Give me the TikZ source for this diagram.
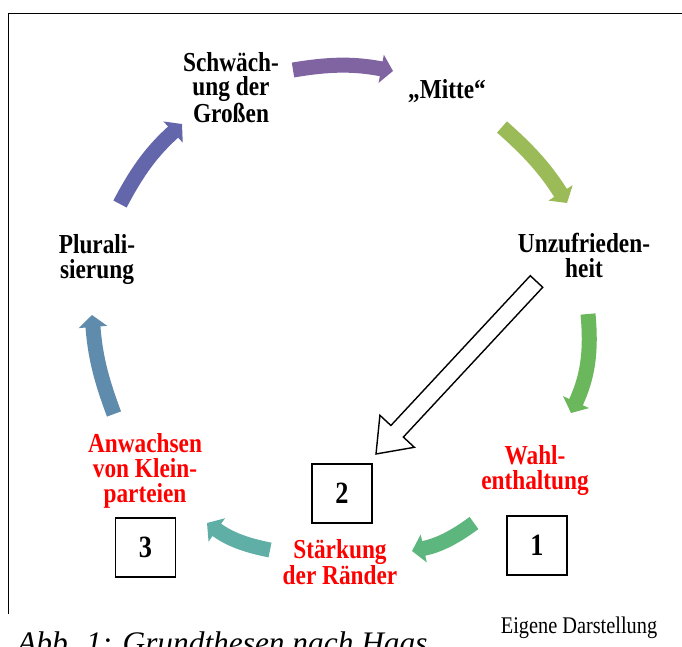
\documentclass[tikz,border=0pt]{standalone}
\usepackage{fontspec}
\setmainfont{Liberation Serif}
\newfontfamily\lblfont[FakeStretch=0.85]{Liberation Serif}
\usetikzlibrary{arrows.meta}
\definecolor{cPurple}{HTML}{8064A2}
\definecolor{cOlive}{HTML}{9BBB59}
\definecolor{cGreen}{HTML}{6BB75B}
\definecolor{cSea}{HTML}{5DB67E}
\definecolor{cTeal}{HTML}{5FAFA6}
\definecolor{cSteel}{HTML}{5F8CAC}
\definecolor{cIndigo}{HTML}{6366AA}

\begin{document}
\begin{tikzpicture}[x=0.025cm,y=0.025cm,
  lbl/.style={font=\lblfont\bfseries\fontsize{19.5}{17.7}\selectfont, align=center, anchor=north, inner sep=0pt},
  redlbl/.style={lbl, text=red},
  numbox/.style={draw, line width=1.4pt, minimum width=1.5cm, minimum height=1.475cm, inner sep=0pt, font=\lblfont\bfseries\fontsize{22}{24}\selectfont},
  cyc/.style={line width=0.375cm, -{Triangle[width=0.7cm,length=0.3cm]}}]
\clip (0,0) rectangle (682,-646);

% frame
\draw[line width=1.4pt] (682,-13.5) -- (8.5,-13.5) -- (8.5,-614);

% labels of the cycle
\node[lbl, font=\lblfont\bfseries\fontsize{19.5}{17.4}\selectfont] (schw) at (231,-52) {Schwäch-\\ung der\\Großen};
\node[lbl] (mitte) at (447,-79) {„Mitte“};
\node[lbl] (unz) at (584,-233) {Unzufrieden-\\heit};
\node[redlbl] (wahl) at (535,-445) {Wahl-\\enthaltung};
\node[redlbl] (staerk) at (340,-539) {Stärkung\\der Ränder};
\node[redlbl] (anw) at (145,-433) {Anwachsen\\von Klein-\\parteien};
\node[lbl] (plur) at (97,-234) {Plurali-\\sierung};

% numbered boxes
\node[numbox] (b1) at (537,-545.5) {1};
\node[numbox] (b2) at (342,-493.5) {2};
\node[numbox] (b3) at (145.5,-547.5) {3};

% cycle arrows
\coordinate (a1) at (293,-70);   \coordinate (e1) at (393,-71);
\coordinate (a2) at (502,-127);  \coordinate (e2) at (567,-203);
\coordinate (a3) at (588,-314);  \coordinate (e3) at (571,-413);
\coordinate (a4) at (474,-523);  \coordinate (e4) at (412,-551);
\coordinate (a5) at (270,-550);  \coordinate (e5) at (207,-523);
\coordinate (a6) at (114,-414);  \coordinate (e6) at (92,-315);
\coordinate (a7) at (120,-204);  \coordinate (e7) at (182,-124);
\draw[cyc, cPurple] (a1) to[bend left=10] (e1);
\draw[cyc, cOlive] (a2) to[bend left=8] (e2);
\draw[cyc, cGreen] (a3) to[bend left=15] (e3);
\draw[cyc, cSea] (a4) to[bend left=12] (e4);
\draw[cyc, cTeal] (a5) to[bend left=12] (e5);
\draw[cyc, cSteel] (a6) to[bend left=8] (e6);
\draw[cyc, cIndigo] (a7) to[bend left=10] (e7);

% hollow arrow towards box 2
\coordinate (ht) at (536.5,-281.5);
\begin{scope}[shift={(ht)}, rotate=-132.94]
\draw[line width=1pt, fill=white] (0,8.5) -- (204.6,8.5) -- (204.6,23.5) -- (235.6,0)
  -- (204.6,-23.5) -- (204.6,-8.5) -- (0,-8.5) -- cycle;
\end{scope}

% captions
\node[anchor=base west, inner sep=0pt, font=\itshape\fontsize{22.3}{26}\selectfont] (cap) at (17,-653) {Abb. 1: Grundthesen nach Haas};
\node[anchor=base, inner sep=0pt, font=\lblfont\fontsize{17}{18}\selectfont] (src) at (579,-633) {Eigene Darstellung};
\end{tikzpicture}
\end{document}
